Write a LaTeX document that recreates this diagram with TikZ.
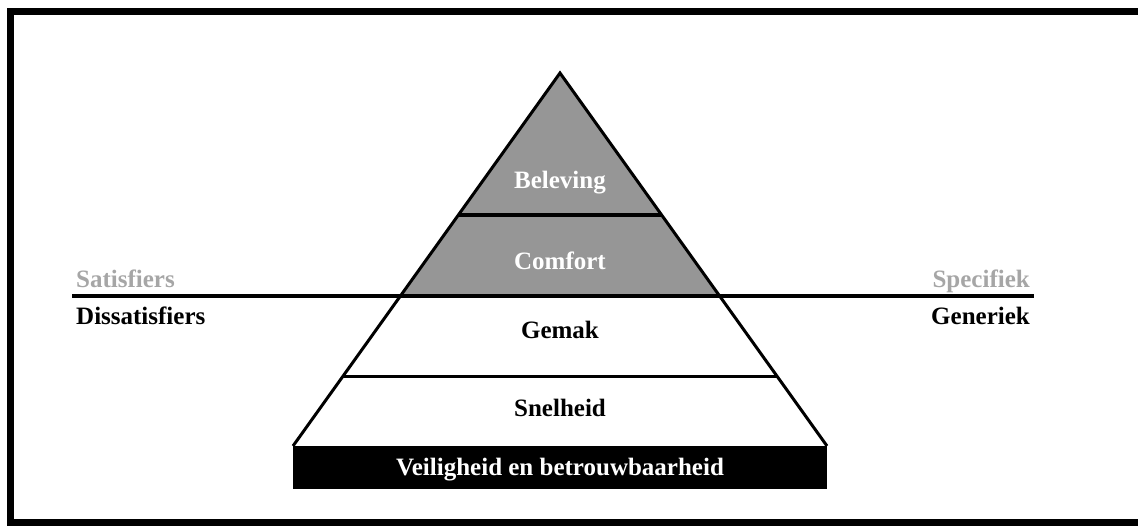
\documentclass[tikz,border=0pt]{standalone}
\usepackage{fontspec}
\setmainfont{Liberation Serif}
\definecolor{tiergray}{HTML}{969696}
\definecolor{softgray}{HTML}{A6A6A6}
\tikzset{
  edge/.style={line width=3pt, line join=miter},
  divider/.style={line width=4pt},
  lbl/.style={inner sep=0pt, anchor=base, font=\fontsize{25}{30}\selectfont\bfseries},
  lblleft/.style={lbl, anchor=base west},
  lblright/.style={lbl, anchor=base east},
  basebar/.style={fill=black, draw=none, minimum width=534pt, minimum height=43pt, inner sep=0pt}
}
\begin{document}
\begin{tikzpicture}[x=1pt,y=-1pt]
\useasboundingbox (0,0) rectangle (1138,525);
% outer frame (runs off the right edge)
\begin{scope}
  \clip (0,0) rectangle (1138,525);
  \draw[line width=7pt] (10,11.5) rectangle (1170,522);
\end{scope}

% pyramid geometry
\coordinate (apex) at (560,73);
\coordinate (bl) at (293,446);
\coordinate (br) at (827,446);
\coordinate (t1l) at (458.4,215);
\coordinate (t1r) at (661.6,215);
\coordinate (t2l) at (400.4,296);
\coordinate (t2r) at (719.6,296);
\coordinate (t3l) at (343.1,376);
\coordinate (t3r) at (776.9,376);
\coordinate (axl) at (72,296);
\coordinate (axr) at (1034,296);

% upper (satisfier) tiers in gray
\fill[tiergray] (apex) -- (t2l) -- (t2r) -- cycle;

% pyramid outline and tier dividers
\draw[edge] (bl) -- (apex) -- (br);
\draw[divider] (t1l) -- (t1r);
\draw[divider] (axl) -- (axr);
\draw[edge] (t3l) -- (t3r);

% base bar
\node[basebar] (base) at (560,467.5) {};
\node[lbl, text=white] (veilig) at (560,475) {Veiligheid en betrouwbaarheid};

% tier labels
\node[lbl, text=white] (beleving) at (560,188) {Beleving};
\node[lbl, text=white] (comfort) at (560,269) {Comfort};
\node[lbl] (gemak) at (560,338) {Gemak};
\node[lbl] (snelheid) at (560,416) {Snelheid};

% side labels
\node[lblleft, text=softgray] (satis) at (76,287) {Satisfiers};
\node[lblleft] (dissatis) at (76,324) {Dissatisfiers};
\node[lblright, text=softgray] (spec) at (1030,287) {Specifiek};
\node[lblright] (gener) at (1030,324) {Generiek};
\end{tikzpicture}
\end{document}
